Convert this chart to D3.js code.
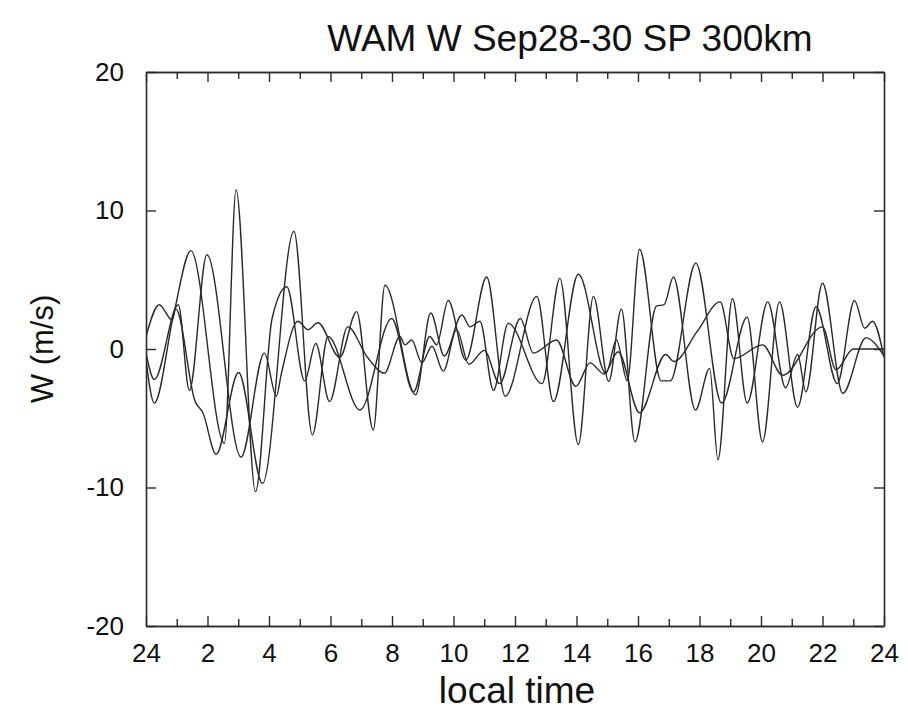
<!DOCTYPE html>
<html>
<head>
<meta charset="utf-8">
<script src="https://cdn.jsdelivr.net/npm/d3@7.9.0/dist/d3.min.js"></script>
<style>
  body { margin: 0; background: #fff; }
  svg { font-family: "Liberation Sans", Arial, sans-serif; }
</style>
</head>
<body>
<svg id="chart" width="908" height="718"></svg>
<script>
// [local time (h), W (m/s)], one list per curve
const seriesA = [
  [0, -0.8], [0.27, -3.9], [0.9, 2.5], [1.46, 7.1], [2.55, -6.8], [2.93, 11.5],
  [3.56, -10.3], [4.1, 2.2], [4.58, 4.5], [5.16, -2.3], [5.52, 0.4], [5.97, -3.8],
  [6.56, 1.6], [7.2, -0.6], [7.75, -1.75], [8.26, 0.9], [8.42, 0.3], [8.64, 0.65],
  [8.97, -1.0], [9.3, 0.2], [9.67, -1.6], [10.1, 1.4], [10.5, -1.1], [11.0, -0.1],
  [11.5, -2.5], [12.17, 2.2], [12.6, -0.3], [13.35, 0.65], [13.98, -2.7],
  [14.44, -1.0], [14.9, -1.8], [15.35, -0.2], [16.05, -4.6], [16.9, -0.4],
  [17.17, -0.9], [17.92, 1.25], [18.67, 3.4], [19.12, -0.7], [20.05, 0.3],
  [20.7, -1.9], [22.0, 1.6], [22.44, -1.5], [23.0, 0], [24, 0]
];
const seriesB = [
  [0, -0.3], [0.27, -2.2], [1.05, 3.2], [1.41, -3.0], [1.98, 6.8], [3.09, -7.8],
  [3.85, -0.3], [4.24, -3.4], [4.4, -1.8], [4.94, 2.0], [5.27, 1.4], [5.59, 1.9],
  [6.3, -0.6], [6.85, 2.7], [7.39, -5.85], [7.77, 4.6], [8.77, -3.3], [9.26, 2.6],
  [9.7, -0.5], [10.27, 2.45], [10.54, 1.6], [10.86, 2.0], [11.3, -3.0], [11.78, 1.85],
  [12.88, -2.5], [13.46, 5.1], [14.06, -6.9], [14.55, 3.8], [15.05, -2.35],
  [15.46, 2.9], [15.9, -6.7], [16.6, 3.1], [16.85, 3.2], [17.15, 5.2], [17.87, -4.4],
  [18.33, -1.4], [18.6, -8.0], [19.07, 3.65], [19.55, -3.9], [20.22, 3.4],
  [20.8, -2.8], [21.19, -0.4], [21.46, -3.1], [22.0, 4.75], [22.66, -3.2],
  [23.41, 0.8], [24, -0.5]
];
const seriesC = [
  [0, 0.9], [0.43, 3.2], [0.85, 2.1], [0.97, 2.9], [1.6, -3.8], [1.85, -4.6],
  [2.28, -7.6], [3.01, -1.7], [3.79, -9.7], [4.81, 8.5], [5.41, -6.2], [5.92, 0.9],
  [6.96, -4.4], [7.99, 2.2], [8.7, -3.1], [9.23, 0.9], [9.45, 0.3], [9.83, 3.5],
  [10.4, -0.8], [11.08, 5.2], [11.68, -3.4], [12.71, 3.8], [13.25, -3.8],
  [14.06, 5.4], [14.96, -1.75], [15.3, 0.65], [15.65, -2.3], [16.05, 7.2],
  [16.75, -2.3], [17.05, -2.3], [17.88, 6.2], [18.72, -3.9], [19.55, 2.3],
  [20.05, -6.7], [20.6, 3.4], [21.19, -4.2], [21.79, 3.05], [22.48, -2.5],
  [23.04, 3.5], [23.37, 1.5], [23.63, 2.0], [24, -0.6]
];
const allSeries = [seriesA, seriesB, seriesC];

const xMajorTicks = [0, 2, 4, 6, 8, 10, 12, 14, 16, 18, 20, 22, 24];
const xMinorTicks = [1, 3, 5, 7, 9, 11, 13, 15, 17, 19, 21, 23];
const xTickLabels = ["24", "2", "4", "6", "8", "10", "12", "14", "16", "18", "20", "22", "24"];
const yTicks = [-20, -10, 0, 10, 20];

const titleText = "WAM W Sep28-30 SP 300km";
const xLabel = "local time";
const yLabel = "W (m/s)";

const margin = { left: 146, right: 884, top: 72, bottom: 626 };
const ink = "#2a2a2a";

const svg = d3.select("#chart");

const xScale = d3.scaleLinear().domain([0, 24]).range([margin.left, margin.right]);
const yScale = d3.scaleLinear().domain([-20, 20]).range([margin.bottom, margin.top]);

svg.append("clipPath").attr("id", "plot-clip")
  .append("rect")
  .attr("x", margin.left).attr("y", margin.top)
  .attr("width", margin.right - margin.left)
  .attr("height", margin.bottom - margin.top);

// curves
const line = d3.line()
  .x((d) => xScale(d[0]))
  .y((d) => yScale(d[1]))
  .curve(d3.curveMonotoneX);

svg.append("g")
  .attr("clip-path", "url(#plot-clip)")
  .selectAll("path")
  .data(allSeries)
  .join("path")
  .attr("d", line)
  .attr("fill", "none")
  .attr("stroke", ink)
  .attr("stroke-width", 1.4);

// axes: ticks point inward on all four sides
const xBottom = d3.axisBottom(xScale).tickValues(xMajorTicks).tickSizeInner(-10).tickSizeOuter(0)
  .tickFormat((d, i) => xTickLabels[i]).tickPadding(18);
const xBottomMinor = d3.axisBottom(xScale).tickValues(xMinorTicks).tickSizeInner(-7).tickSizeOuter(0)
  .tickFormat("");
const xTop = d3.axisTop(xScale).tickValues(xMajorTicks).tickSizeInner(-10).tickSizeOuter(0).tickFormat("");
const xTopMinor = d3.axisTop(xScale).tickValues(xMinorTicks).tickSizeInner(-7).tickSizeOuter(0).tickFormat("");
const yLeft = d3.axisLeft(yScale).tickValues(yTicks).tickSizeInner(-10).tickSizeOuter(0).tickPadding(22)
  .tickFormat((d) => String(d));
const yRight = d3.axisRight(yScale).tickValues(yTicks).tickSizeInner(-10).tickSizeOuter(0).tickFormat("");

function styleAxis(g) {
  g.selectAll("path").attr("stroke", ink).attr("stroke-width", 1.6);
  g.selectAll("line").attr("stroke", ink).attr("stroke-width", 1.4);
  g.selectAll("text").attr("fill", "#111").style("font-size", "26px")
    .style("font-family", "'Liberation Sans', Arial, sans-serif");
}

svg.append("g").attr("transform", `translate(0,${margin.bottom})`).call(xBottom).call(styleAxis);
svg.append("g").attr("transform", `translate(0,${margin.bottom})`).call(xBottomMinor).call(styleAxis);
svg.append("g").attr("transform", `translate(0,${margin.top})`).call(xTop).call(styleAxis);
svg.append("g").attr("transform", `translate(0,${margin.top})`).call(xTopMinor).call(styleAxis);
svg.append("g").attr("transform", `translate(${margin.left},0)`).call(yLeft).call(styleAxis);
svg.append("g").attr("transform", `translate(${margin.right},0)`).call(yRight).call(styleAxis);

// titles
svg.append("text")
  .attr("x", 570)
  .attr("y", 51)
  .attr("text-anchor", "middle")
  .style("font-size", "37px")
  .attr("fill", "#111")
  .text(titleText);

svg.append("text")
  .attr("x", (margin.left + margin.right) / 2 + 2)
  .attr("y", 703)
  .attr("text-anchor", "middle")
  .style("font-size", "37px")
  .attr("fill", "#111")
  .text(xLabel);

svg.append("text")
  .attr("transform", `translate(53,${(margin.top + margin.bottom) / 2}) rotate(-90)`)
  .attr("text-anchor", "middle")
  .style("font-size", "31px")
  .attr("fill", "#111")
  .text(yLabel);
</script>
</body>
</html>
